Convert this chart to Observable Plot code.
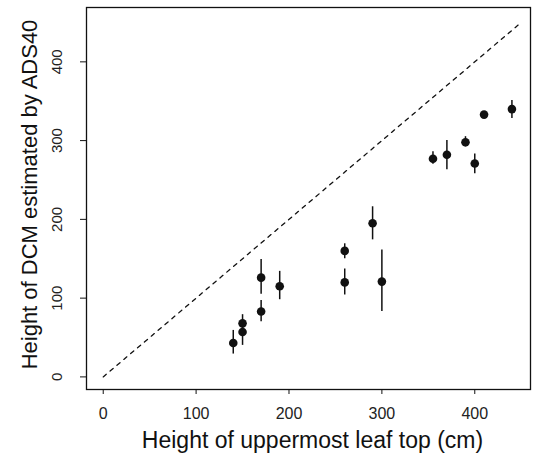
<!DOCTYPE html>
<html>
<head>
<meta charset="utf-8">
<script src="https://cdn.jsdelivr.net/npm/d3@7"></script>
<script src="https://cdn.jsdelivr.net/npm/@observablehq/plot@0.6"></script>
<style>
  html, body { margin: 0; padding: 0; background: #fff; }
  #chart svg { display: block; }
</style>
</head>
<body>
<div id="chart"></div>
<script>
// Height of uppermost leaf top (cm)
const leafTop = [140, 150, 150, 170, 170, 190, 260, 260, 290, 300, 355, 370, 390, 400, 410, 440];
// Height of DCM estimated by ADS40 (mean)
const dcmMean = [43, 57, 68, 83, 126, 115, 120, 160, 195, 121, 277, 282, 298, 271, 333, 340];
// Error bar lower / upper ends
const dcmLow  = [29, 40, 60, 70, 105, 98, 104, 150, 174, 83, 270, 263, 292, 258, 330, 328];
const dcmHigh = [59, 64, 79, 97, 149, 134, 137, 169, 216, 161, 286, 300, 305, 283, 337, 351];
// 1:1 reference line
const oneToOne = [0, 450];
const xTicks = [0, 100, 200, 300, 400];
const yTicks = [0, 100, 200, 300, 400];
const xTitle = "Height of uppermost leaf top (cm)";
const yTitle = "Height of DCM estimated by ADS40";

const points = leafTop.map((x, i) => ({x, y: dcmMean[i], lo: dcmLow[i], hi: dcmHigh[i]}));
const line = oneToOne.map(v => ({x: v, y: v}));

const font = "'Liberation Sans', Arial, Helvetica, sans-serif";

const chart = Plot.plot({
  width: 533,
  height: 465,
  marginLeft: 86,
  marginRight: 3,
  marginTop: 7,
  marginBottom: 76,
  style: {fontFamily: font, background: "#fff", color: "#111"},
  x: {domain: [-18, 460]},
  y: {domain: [-16, 469]},
  marks: [
    Plot.frame({stroke: "#111", strokeWidth: 1.3}),
    Plot.axisX({ticks: xTicks, tickSize: 5, tickPadding: 13, fontSize: 16, label: null, stroke: "#111", fill: "#222"}),
    Plot.axisY({ticks: yTicks, tickSize: 6, tickFormat: () => "", label: null, stroke: "#111"}),
    Plot.text(yTicks, {y: d => d, text: d => String(d), frameAnchor: "left", textAnchor: "middle", dx: -29, rotate: -90, fontSize: 15, fill: "#222"}),
    Plot.text([xTitle], {frameAnchor: "bottom", textAnchor: "middle", dx: 4, dy: 58, fontSize: 23, fill: "#111"}),
    Plot.text([yTitle], {frameAnchor: "left", textAnchor: "middle", dx: -57, dy: -4, rotate: -90, fontSize: 22, fill: "#111"}),
    Plot.line(line, {x: "x", y: "y", stroke: "#111", strokeWidth: 1.3, strokeDasharray: "4,5"}),
    Plot.ruleX(points, {x: "x", y1: "lo", y2: "hi", stroke: "#111", strokeWidth: 1.5}),
    Plot.dot(points, {x: "x", y: "y", r: 4.3, fill: "#111", stroke: "none"})
  ]
});
document.getElementById("chart").append(chart);
</script>
</body>
</html>
